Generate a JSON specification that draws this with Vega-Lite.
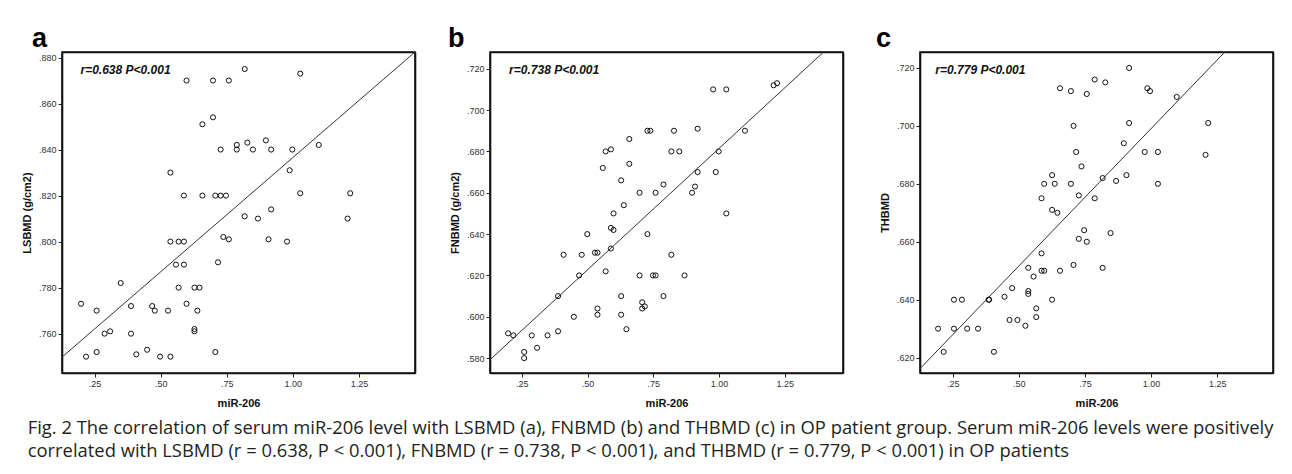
{
  "$schema": "https://vega.github.io/schema/vega-lite/v6.json",
  "background": "white",
  "padding": {"left": 20, "top": 24, "right": 0, "bottom": 0},
  "spacing": 31,
  "title": {
    "text": ["Fig. 2  The correlation of serum miR-206 level with LSBMD (a), FNBMD (b) and THBMD (c) in OP patient group. Serum miR-206 levels were positively", "correlated with LSBMD (r = 0.638, P < 0.001), FNBMD (r = 0.738, P < 0.001), and THBMD (r = 0.779, P < 0.001) in OP patients"],
    "orient": "bottom",
    "anchor": "start",
    "frame": "bounds",
    "font": "Open Sans",
    "fontSize": 18.4,
    "fontWeight": "normal",
    "color": "#231f20",
    "lineHeight": 23,
    "offset": 10,
    "dx": 7
  },
  "datasets": {
    "pts": [
      {"p":"a","x":0.199,"y":0.773},{"p":"a","x":0.218,"y":0.750},{"p":"a","x":0.258,"y":0.770},{"p":"a","x":0.258,"y":0.752},{"p":"a","x":0.288,"y":0.760},{"p":"a","x":0.309,"y":0.761},{"p":"a","x":0.349,"y":0.782},{"p":"a","x":0.388,"y":0.772},{"p":"a","x":0.388,"y":0.760},{"p":"a","x":0.408,"y":0.751},{"p":"a","x":0.449,"y":0.753},{"p":"a","x":0.468,"y":0.772},{"p":"a","x":0.478,"y":0.770},{"p":"a","x":0.498,"y":0.750},{"p":"a","x":0.528,"y":0.770},{"p":"a","x":0.537,"y":0.750},{"p":"a","x":0.537,"y":0.830},{"p":"a","x":0.537,"y":0.800},{"p":"a","x":0.568,"y":0.800},{"p":"a","x":0.588,"y":0.800},{"p":"a","x":0.558,"y":0.790},{"p":"a","x":0.588,"y":0.790},{"p":"a","x":0.568,"y":0.780},{"p":"a","x":0.588,"y":0.820},{"p":"a","x":0.598,"y":0.870},{"p":"a","x":0.598,"y":0.773},{"p":"a","x":0.628,"y":0.780},{"p":"a","x":0.647,"y":0.780},{"p":"a","x":0.639,"y":0.770},{"p":"a","x":0.628,"y":0.762},{"p":"a","x":0.628,"y":0.761},{"p":"a","x":0.658,"y":0.820},{"p":"a","x":0.658,"y":0.851},{"p":"a","x":0.698,"y":0.870},{"p":"a","x":0.698,"y":0.854},{"p":"a","x":0.707,"y":0.820},{"p":"a","x":0.727,"y":0.820},{"p":"a","x":0.747,"y":0.820},{"p":"a","x":0.727,"y":0.840},{"p":"a","x":0.717,"y":0.791},{"p":"a","x":0.707,"y":0.752},{"p":"a","x":0.737,"y":0.802},{"p":"a","x":0.758,"y":0.801},{"p":"a","x":0.758,"y":0.870},{"p":"a","x":0.788,"y":0.842},{"p":"a","x":0.788,"y":0.840},{"p":"a","x":0.818,"y":0.811},{"p":"a","x":0.818,"y":0.875},{"p":"a","x":0.828,"y":0.843},{"p":"a","x":0.849,"y":0.840},{"p":"a","x":0.868,"y":0.810},{"p":"a","x":0.898,"y":0.844},{"p":"a","x":0.908,"y":0.801},{"p":"a","x":0.918,"y":0.814},{"p":"a","x":0.918,"y":0.840},{"p":"a","x":0.978,"y":0.800},{"p":"a","x":0.988,"y":0.831},{"p":"a","x":0.998,"y":0.840},{"p":"a","x":1.028,"y":0.873},{"p":"a","x":1.028,"y":0.821},{"p":"a","x":1.098,"y":0.842},{"p":"a","x":1.207,"y":0.810},{"p":"a","x":1.217,"y":0.821},
      {"p":"b","x":0.198,"y":0.592},{"p":"b","x":0.218,"y":0.591},{"p":"b","x":0.259,"y":0.583},{"p":"b","x":0.259,"y":0.580},{"p":"b","x":0.288,"y":0.591},{"p":"b","x":0.308,"y":0.585},{"p":"b","x":0.348,"y":0.591},{"p":"b","x":0.388,"y":0.593},{"p":"b","x":0.388,"y":0.610},{"p":"b","x":0.409,"y":0.630},{"p":"b","x":0.448,"y":0.600},{"p":"b","x":0.468,"y":0.620},{"p":"b","x":0.478,"y":0.630},{"p":"b","x":0.499,"y":0.640},{"p":"b","x":0.528,"y":0.631},{"p":"b","x":0.538,"y":0.631},{"p":"b","x":0.538,"y":0.604},{"p":"b","x":0.538,"y":0.601},{"p":"b","x":0.558,"y":0.672},{"p":"b","x":0.569,"y":0.680},{"p":"b","x":0.569,"y":0.622},{"p":"b","x":0.589,"y":0.681},{"p":"b","x":0.589,"y":0.643},{"p":"b","x":0.599,"y":0.642},{"p":"b","x":0.589,"y":0.633},{"p":"b","x":0.599,"y":0.650},{"p":"b","x":0.628,"y":0.666},{"p":"b","x":0.628,"y":0.610},{"p":"b","x":0.628,"y":0.601},{"p":"b","x":0.638,"y":0.654},{"p":"b","x":0.659,"y":0.686},{"p":"b","x":0.659,"y":0.674},{"p":"b","x":0.648,"y":0.594},{"p":"b","x":0.698,"y":0.660},{"p":"b","x":0.698,"y":0.620},{"p":"b","x":0.708,"y":0.607},{"p":"b","x":0.708,"y":0.604},{"p":"b","x":0.718,"y":0.605},{"p":"b","x":0.728,"y":0.690},{"p":"b","x":0.739,"y":0.690},{"p":"b","x":0.728,"y":0.640},{"p":"b","x":0.749,"y":0.620},{"p":"b","x":0.759,"y":0.620},{"p":"b","x":0.759,"y":0.660},{"p":"b","x":0.789,"y":0.664},{"p":"b","x":0.789,"y":0.610},{"p":"b","x":0.819,"y":0.680},{"p":"b","x":0.819,"y":0.630},{"p":"b","x":0.829,"y":0.690},{"p":"b","x":0.849,"y":0.680},{"p":"b","x":0.869,"y":0.620},{"p":"b","x":0.898,"y":0.660},{"p":"b","x":0.909,"y":0.663},{"p":"b","x":0.919,"y":0.691},{"p":"b","x":0.919,"y":0.670},{"p":"b","x":0.978,"y":0.710},{"p":"b","x":0.988,"y":0.670},{"p":"b","x":0.999,"y":0.680},{"p":"b","x":1.028,"y":0.710},{"p":"b","x":1.028,"y":0.650},{"p":"b","x":1.099,"y":0.690},{"p":"b","x":1.208,"y":0.712},{"p":"b","x":1.221,"y":0.713},
      {"p":"c","x":0.195,"y":0.630},{"p":"c","x":0.216,"y":0.622},{"p":"c","x":0.255,"y":0.640},{"p":"c","x":0.255,"y":0.630},{"p":"c","x":0.285,"y":0.640},{"p":"c","x":0.305,"y":0.630},{"p":"c","x":0.346,"y":0.630},{"p":"c","x":0.386,"y":0.640},{"p":"c","x":0.388,"y":0.640},{"p":"c","x":0.406,"y":0.622},{"p":"c","x":0.446,"y":0.641},{"p":"c","x":0.465,"y":0.633},{"p":"c","x":0.475,"y":0.644},{"p":"c","x":0.495,"y":0.633},{"p":"c","x":0.525,"y":0.631},{"p":"c","x":0.536,"y":0.651},{"p":"c","x":0.536,"y":0.643},{"p":"c","x":0.536,"y":0.642},{"p":"c","x":0.556,"y":0.648},{"p":"c","x":0.566,"y":0.637},{"p":"c","x":0.566,"y":0.634},{"p":"c","x":0.586,"y":0.656},{"p":"c","x":0.586,"y":0.650},{"p":"c","x":0.596,"y":0.650},{"p":"c","x":0.586,"y":0.675},{"p":"c","x":0.596,"y":0.680},{"p":"c","x":0.626,"y":0.683},{"p":"c","x":0.626,"y":0.671},{"p":"c","x":0.636,"y":0.680},{"p":"c","x":0.646,"y":0.670},{"p":"c","x":0.626,"y":0.640},{"p":"c","x":0.656,"y":0.713},{"p":"c","x":0.656,"y":0.650},{"p":"c","x":0.697,"y":0.712},{"p":"c","x":0.697,"y":0.680},{"p":"c","x":0.707,"y":0.700},{"p":"c","x":0.707,"y":0.652},{"p":"c","x":0.717,"y":0.691},{"p":"c","x":0.727,"y":0.676},{"p":"c","x":0.727,"y":0.661},{"p":"c","x":0.737,"y":0.686},{"p":"c","x":0.747,"y":0.664},{"p":"c","x":0.757,"y":0.711},{"p":"c","x":0.757,"y":0.660},{"p":"c","x":0.787,"y":0.716},{"p":"c","x":0.787,"y":0.675},{"p":"c","x":0.817,"y":0.682},{"p":"c","x":0.817,"y":0.651},{"p":"c","x":0.827,"y":0.715},{"p":"c","x":0.847,"y":0.663},{"p":"c","x":0.868,"y":0.681},{"p":"c","x":0.897,"y":0.694},{"p":"c","x":0.907,"y":0.683},{"p":"c","x":0.917,"y":0.720},{"p":"c","x":0.917,"y":0.701},{"p":"c","x":0.976,"y":0.691},{"p":"c","x":0.986,"y":0.713},{"p":"c","x":0.996,"y":0.712},{"p":"c","x":1.026,"y":0.691},{"p":"c","x":1.026,"y":0.680},{"p":"c","x":1.097,"y":0.710},{"p":"c","x":1.206,"y":0.690},{"p":"c","x":1.216,"y":0.701}
    ],
    "fit": [
      {"p":"a","x":0.127,"y":0.7498,"x2":1.462,"y2":0.8824},
      {"p":"b","x":0.129,"y":0.5792,"x2":1.398,"y2":0.7281},
      {"p":"c","x":0.1266,"y":0.6162,"x2":1.279,"y2":0.7255}
    ],
    "ann": [
      {"p":"a","x":0.197,"y":0.8745,"label":"r=0.638 P<0.001"},
      {"p":"b","x":0.2017,"y":0.7195,"label":"r=0.738 P<0.001"},
      {"p":"c","x":0.1847,"y":0.7192,"label":"r=0.779 P<0.001"}
    ]
  },
  "hconcat": [
    {
      "title": {"text": "a", "dx": -30},
      "width": 353, "height": 321,
      "resolve": {"axis": {"x": "independent", "y": "independent"}},
      "layer": [
        {"data": {"name": "fit"}, "transform": [{"filter": "datum.p == 'a'"}], "mark": {"type": "rule", "clip": true, "color": "#333333", "strokeWidth": 1},
         "encoding": {
           "x": {"field": "x", "type": "quantitative", "scale": {"domain": [0.127, 1.462], "nice": false, "zero": false}, "axis": {"orient": "top", "labels": false, "ticks": false, "title": null, "domain": true}},
           "y": {"field": "y", "type": "quantitative", "scale": {"domain": [0.7429, 0.8824], "nice": false, "zero": false}, "axis": {"orient": "right", "labels": false, "ticks": false, "title": null, "domain": true}},
           "x2": {"field": "x2"}, "y2": {"field": "y2"}}},
        {"data": {"name": "pts"}, "transform": [{"filter": "datum.p == 'a'"}], "mark": {"type": "point", "shape": "circle", "filled": false, "color": "#111111", "size": 26, "strokeWidth": 1, "opacity": 1},
         "encoding": {
           "x": {"field": "x", "type": "quantitative", "scale": {"domain": [0.127, 1.462], "nice": false, "zero": false}, "axis": {"values": [0.25, 0.5, 0.75, 1, 1.25], "labelExpr": "replace(format(datum.value, '.2f'), '0.', '.')", "title": "miR-206"}},
           "y": {"field": "y", "type": "quantitative", "scale": {"domain": [0.7429, 0.8824], "nice": false, "zero": false}, "axis": {"values": [0.76, 0.78, 0.8, 0.82, 0.84, 0.86, 0.88], "labelExpr": "replace(format(datum.value, '.3f'), '0.', '.')", "title": "LSBMD (g/cm2)"}}}},
        {"data": {"name": "ann"}, "transform": [{"filter": "datum.p == 'a'"}], "mark": {"type": "text", "align": "left", "baseline": "middle", "font": "Liberation Sans", "fontStyle": "italic", "fontWeight": "bold", "fontSize": 12, "color": "#111111"},
         "encoding": {
           "x": {"field": "x", "type": "quantitative", "scale": {"domain": [0.127, 1.462], "nice": false, "zero": false}, "axis": null},
           "y": {"field": "y", "type": "quantitative", "scale": {"domain": [0.7429, 0.8824], "nice": false, "zero": false}, "axis": null},
           "text": {"field": "label"}}}
      ]
    },
    {
      "title": {"text": "b", "dx": -42},
      "width": 353, "height": 321,
      "resolve": {"axis": {"x": "independent", "y": "independent"}},
      "layer": [
        {"data": {"name": "fit"}, "transform": [{"filter": "datum.p == 'b'"}], "mark": {"type": "rule", "clip": true, "color": "#333333", "strokeWidth": 1},
         "encoding": {
           "x": {"field": "x", "type": "quantitative", "scale": {"domain": [0.129, 1.472], "nice": false, "zero": false}, "axis": {"orient": "top", "labels": false, "ticks": false, "title": null, "domain": true}},
           "y": {"field": "y", "type": "quantitative", "scale": {"domain": [0.5728, 0.7281], "nice": false, "zero": false}, "axis": {"orient": "right", "labels": false, "ticks": false, "title": null, "domain": true}},
           "x2": {"field": "x2"}, "y2": {"field": "y2"}}},
        {"data": {"name": "pts"}, "transform": [{"filter": "datum.p == 'b'"}], "mark": {"type": "point", "shape": "circle", "filled": false, "color": "#111111", "size": 26, "strokeWidth": 1, "opacity": 1},
         "encoding": {
           "x": {"field": "x", "type": "quantitative", "scale": {"domain": [0.129, 1.472], "nice": false, "zero": false}, "axis": {"values": [0.25, 0.5, 0.75, 1, 1.25], "labelExpr": "replace(format(datum.value, '.2f'), '0.', '.')", "title": "miR-206"}},
           "y": {"field": "y", "type": "quantitative", "scale": {"domain": [0.5728, 0.7281], "nice": false, "zero": false}, "axis": {"values": [0.58, 0.6, 0.62, 0.64, 0.66, 0.68, 0.7, 0.72], "labelExpr": "replace(format(datum.value, '.3f'), '0.', '.')", "title": "FNBMD (g/cm2)"}}}},
        {"data": {"name": "ann"}, "transform": [{"filter": "datum.p == 'b'"}], "mark": {"type": "text", "align": "left", "baseline": "middle", "font": "Liberation Sans", "fontStyle": "italic", "fontWeight": "bold", "fontSize": 12, "color": "#111111"},
         "encoding": {
           "x": {"field": "x", "type": "quantitative", "scale": {"domain": [0.129, 1.472], "nice": false, "zero": false}, "axis": null},
           "y": {"field": "y", "type": "quantitative", "scale": {"domain": [0.5728, 0.7281], "nice": false, "zero": false}, "axis": null},
           "text": {"field": "label"}}}
      ]
    },
    {
      "title": {"text": "c", "dx": -44},
      "width": 353, "height": 321,
      "resolve": {"axis": {"x": "independent", "y": "independent"}},
      "layer": [
        {"data": {"name": "fit"}, "transform": [{"filter": "datum.p == 'c'"}], "mark": {"type": "rule", "clip": true, "color": "#333333", "strokeWidth": 1},
         "encoding": {
           "x": {"field": "x", "type": "quantitative", "scale": {"domain": [0.1266, 1.461], "nice": false, "zero": false}, "axis": {"orient": "top", "labels": false, "ticks": false, "title": null, "domain": true}},
           "y": {"field": "y", "type": "quantitative", "scale": {"domain": [0.6147, 0.7255], "nice": false, "zero": false}, "axis": {"orient": "right", "labels": false, "ticks": false, "title": null, "domain": true}},
           "x2": {"field": "x2"}, "y2": {"field": "y2"}}},
        {"data": {"name": "pts"}, "transform": [{"filter": "datum.p == 'c'"}], "mark": {"type": "point", "shape": "circle", "filled": false, "color": "#111111", "size": 26, "strokeWidth": 1, "opacity": 1},
         "encoding": {
           "x": {"field": "x", "type": "quantitative", "scale": {"domain": [0.1266, 1.461], "nice": false, "zero": false}, "axis": {"values": [0.25, 0.5, 0.75, 1, 1.25], "labelExpr": "replace(format(datum.value, '.2f'), '0.', '.')", "title": "miR-206"}},
           "y": {"field": "y", "type": "quantitative", "scale": {"domain": [0.6147, 0.7255], "nice": false, "zero": false}, "axis": {"values": [0.62, 0.64, 0.66, 0.68, 0.7, 0.72], "labelExpr": "replace(format(datum.value, '.3f'), '0.', '.')", "title": "THBMD"}}}},
        {"data": {"name": "ann"}, "transform": [{"filter": "datum.p == 'c'"}], "mark": {"type": "text", "align": "left", "baseline": "middle", "font": "Liberation Sans", "fontStyle": "italic", "fontWeight": "bold", "fontSize": 12, "color": "#111111"},
         "encoding": {
           "x": {"field": "x", "type": "quantitative", "scale": {"domain": [0.1266, 1.461], "nice": false, "zero": false}, "axis": null},
           "y": {"field": "y", "type": "quantitative", "scale": {"domain": [0.6147, 0.7255], "nice": false, "zero": false}, "axis": null},
           "text": {"field": "label"}}}
      ]
    }
  ],
  "config": {
    "view": {"stroke": "#111111", "strokeWidth": 1.6},
    "title": {"anchor": "start", "frame": "group", "font": "Liberation Sans", "fontSize": 27, "fontWeight": "bold", "color": "#000000", "offset": -1},
    "axis": {"domain": true, "domainColor": "#111111", "domainWidth": 1.6, "grid": false, "tickColor": "#222222", "tickSize": 4, "labelFont": "Liberation Sans", "labelFontSize": 9, "labelColor": "#333333", "labelPadding": 2, "titleFont": "Liberation Sans", "titleFontSize": 11, "titleFontWeight": "bold", "titleColor": "#111111"},
    "axisX": {"titlePadding": 9},
    "axisY": {"titlePadding": 6}
  }
}
